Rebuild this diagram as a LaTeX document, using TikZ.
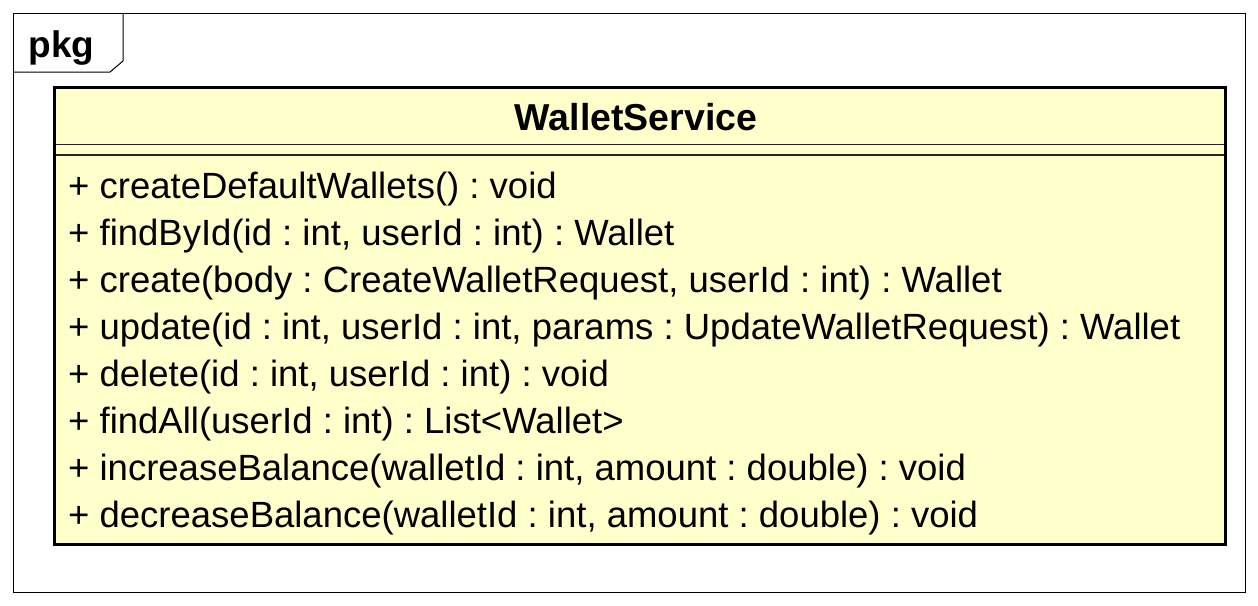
\documentclass[tikz,border=0pt]{standalone}
\usepackage{fontspec}
\setmainfont{Liberation Sans}
\definecolor{classfill}{HTML}{FFFFCC}
\definecolor{framecol}{HTML}{000000}
\begin{document}
\frenchspacing
\begin{tikzpicture}[x=1pt,y=-1pt,
  member/.style={anchor=base west,inner sep=0pt,font=\fontsize{36.5}{43}\selectfont},
  titletext/.style={anchor=base,inner sep=0pt,font=\fontsize{37.5}{43}\selectfont\bfseries},
  framebox/.style={draw=framecol,line width=1pt},
  classbox/.style={draw=black,line width=3pt,fill=classfill},
  sepline/.style={draw=black!85,line width=1.3pt}]
\useasboundingbox (0,0) rectangle (1258,605);
% package frame
\draw[framebox] (13,13) rectangle (1245.5,592);
\draw[framebox] (13,72) -- (110,72) -- (123,61) -- (123,13);
\node[titletext,anchor=base west,font=\fontsize{37}{43}\selectfont\bfseries] (pkg) at (28.5,57) {pkg};
% class box
\draw[classbox] (54,87.7) rectangle (1225,544.3);
\draw[sepline] (55.5,144.5) -- (1223.5,144.5);
\draw[sepline] (55.5,155) -- (1223.5,155);
\node[titletext] (title) at (636,130) {WalletService};
\node[member] (m1) at (68,198) {+ createDefaultWallets() : void};
\node[member] (m2) at (68,245) {+ findById(id : int, userId : int) : Wallet};
\node[member] (m3) at (68,292) {+ create(body : CreateWalletRequest, userId : int) : Wallet};
\node[member] (m4) at (68,339) {+ update(id : int, userId : int, params : UpdateWalletRequest) : Wallet};
\node[member] (m5) at (68,386) {+ delete(id : int, userId : int) : void};
\node[member] (m6) at (68,433) {+ findAll(userId : int) : List<Wallet>};
\node[member] (m7) at (68,480) {+ increaseBalance(walletId : int, amount : double) : void};
\node[member] (m8) at (68,527) {+ decreaseBalance(walletId : int, amount : double) : void};
\end{tikzpicture}
\end{document}
